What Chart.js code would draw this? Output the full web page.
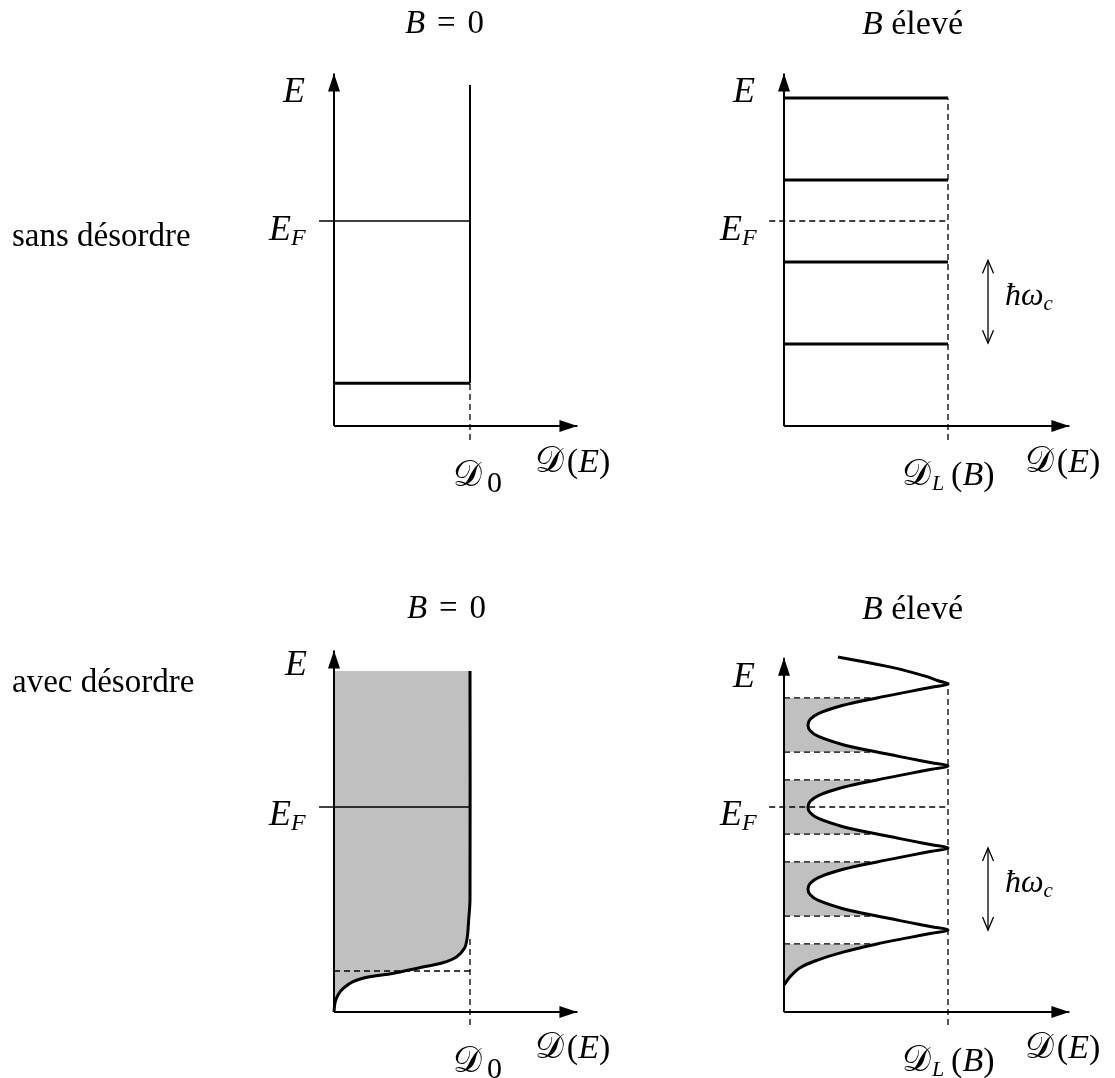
<!DOCTYPE html>
<html><head><meta charset="utf-8">
<script src="https://cdn.jsdelivr.net/npm/chart.js@4.4.1/dist/chart.umd.min.js"></script>
<style>
html,body{margin:0;padding:0;background:#fff;overflow:hidden;}
#wrap{position:relative;width:1115px;height:1078px;}
#c{position:absolute;left:0;top:0;}
.t{position:absolute;font-family:"Liberation Serif","Times New Roman",serif;color:#000;white-space:nowrap;line-height:1;}
.t i{font-style:italic;}
.cal{font-family:"DejaVu Serif","DejaVu Sans","Noto Sans",serif;font-style:normal;font-size:36px;}
.sub{position:relative;}
.eq{margin:0 0.36em;}
</style></head><body>
<div id="wrap"><canvas id="c" width="1115" height="1078"></canvas></div>
<script>
// ---------------- data (energies in units of ħω_c, densities in units of D0 / D_L) ----------------
// top-left : sans désordre, B = 0
const tlAxisTopE = 4.30, tlAxisEndD = 1.79;
const tlBandEdgeE = 0.52, tlBandTopE = 4.16, tlFermiE = 2.5, tlD0 = 1;
// top-right : sans désordre, B élevé
const trAxisTopE = 4.30, trAxisEndD = 1.74;
const trLevelsE = [1.0, 2.0, 3.0, 4.0];
const trFermiE = 2.5, trDL = 1;
const trGapE = [1.01, 2.02];
// bottom-left : avec désordre, B = 0
const blAxisTopE = 4.41, blAxisEndD = 1.79;
const blCurveE = [0.00, 0.11, 0.21, 0.29, 0.37, 0.43, 0.47, 0.54, 0.60, 0.67, 0.78, 0.91, 1.12, 1.37, 4.16];
const blCurveD = [0.00, 0.007, 0.03, 0.07, 0.14, 0.26, 0.43, 0.63, 0.80, 0.90, 0.96, 0.98, 0.99, 1.00, 1.00];
const blEdgeE = 0.50, blFermiE = 2.5, blD0 = 1;
// bottom-right : avec désordre, B élevé
const brAxisTopE = 4.32, brAxisEndD = 1.74;
const brCurveE = [0.33, 0.43, 0.54, 0.63, 0.73, 0.83, 0.91, 0.96,
                  1.00, 1.04, 1.09, 1.17, 1.26, 1.36, 1.43, 1.50, 1.57, 1.64, 1.74, 1.83, 1.91, 1.96,
                  2.00, 2.04, 2.09, 2.17, 2.26, 2.36, 2.43, 2.50, 2.57, 2.64, 2.74, 2.83, 2.91, 2.96,
                  3.00, 3.04, 3.09, 3.17, 3.26, 3.36, 3.43, 3.50, 3.57, 3.64, 3.74, 3.83, 3.91, 3.96,
                  4.00, 4.04, 4.09, 4.20, 4.33];
const brCurveD = [0.00, 0.037, 0.098, 0.20, 0.36, 0.567, 0.77, 0.90,
                  1.00, 0.90, 0.77, 0.567, 0.36, 0.21, 0.16, 0.146, 0.16, 0.21, 0.36, 0.567, 0.77, 0.90,
                  1.00, 0.90, 0.77, 0.567, 0.36, 0.21, 0.16, 0.146, 0.16, 0.21, 0.36, 0.567, 0.77, 0.90,
                  1.00, 0.90, 0.77, 0.567, 0.36, 0.21, 0.16, 0.146, 0.16, 0.21, 0.36, 0.567, 0.77, 0.90,
                  1.00, 0.94, 0.872, 0.665, 0.329];
const brFilledBands = [[0.33, 0.83], [1.17, 1.83], [2.17, 2.83], [3.17, 3.83]];
const brFermiE = 2.5, brDL = 1;
const brGapE = [1.0, 2.0];

// ---------------- layout (pixel origin and pixels per unit for each panel) ----------------
const W = 1115, H = 1078;
const panels = {
  TL: {ox: 334, oy: 426, sx: 136, sy: 82},
  TR: {ox: 784, oy: 426, sx: 164, sy: 82},
  BL: {ox: 334, oy: 1012, sx: 136, sy: 82},
  BR: {ox: 784, oy: 1012, sx: 164, sy: 82}
};
const scales = {};
for (const [k, p] of Object.entries(panels)) {
  scales['x' + k] = {type: 'linear', axis: 'x', display: false, bounds: 'data', grace: 0,
    min: -p.ox / p.sx, max: (W - p.ox) / p.sx};
  scales['y' + k] = {type: 'linear', axis: 'y', display: false, bounds: 'data', grace: 0,
    min: -(H - p.oy) / p.sy, max: p.oy / p.sy};
}
const DASH = [6, 4];
const GRAY = '#c0c0c0';
const pts = (Ds, Es) => Ds.map((d, i) => ({x: d, y: Es[i]}));
function seg(panel, data, opts) {
  return Object.assign({
    xAxisID: 'x' + panel, yAxisID: 'y' + panel, data: data,
    showLine: true, pointRadius: 0, pointHoverRadius: 0, borderColor: '#000',
    borderWidth: 2, fill: false, tension: 0, order: 3
  }, opts || {});
}
const axes = (panel, topE, endD) => [
  seg(panel, [{x: 0, y: 0}, {x: 0, y: topE}], {arrow: 'filled', order: 0}),
  seg(panel, [{x: 0, y: 0}, {x: endD, y: 0}], {arrow: 'filled', order: 0})
];
const dashed = (panel, data) => seg(panel, data, {borderDash: DASH, borderWidth: 1.3, order: 5});
function curveDAt(E) { const i = brCurveE.indexOf(E); return brCurveD[i]; }

const datasets = [];
// ---- TL
datasets.push(...axes('TL', tlAxisTopE, tlAxisEndD));
datasets.push(seg('TL', [{x: tlD0, y: tlBandEdgeE}, {x: tlD0, y: tlBandTopE}], {borderWidth: 2}));
datasets.push(seg('TL', [{x: 0, y: tlBandEdgeE}, {x: tlD0, y: tlBandEdgeE}], {borderWidth: 3}));
datasets.push(seg('TL', [{x: -0.11, y: tlFermiE}, {x: tlD0, y: tlFermiE}], {borderWidth: 1.3}));
datasets.push(dashed('TL', [{x: tlD0, y: -0.17}, {x: tlD0, y: tlBandEdgeE}]));
// ---- TR
datasets.push(...axes('TR', trAxisTopE, trAxisEndD));
trLevelsE.forEach(L => datasets.push(seg('TR', [{x: 0, y: L}, {x: trDL, y: L}], {borderWidth: 3})));
datasets.push(dashed('TR', [{x: trDL, y: -0.17}, {x: trDL, y: trLevelsE[trLevelsE.length - 1]}]));
datasets.push(dashed('TR', [{x: -0.09, y: trFermiE}, {x: trDL, y: trFermiE}]));
datasets.push(seg('TR', [{x: 1.244, y: trGapE[0]}, {x: 1.244, y: trGapE[1]}], {borderWidth: 1.3, arrow: 'open'}));
// ---- BL
const blPts = pts(blCurveD, blCurveE);
datasets.push(seg('BL', [...blPts, {x: 0, y: blCurveE[blCurveE.length - 1]}],
  {fill: 'shape', backgroundColor: GRAY, borderColor: 'rgba(0,0,0,0)', borderWidth: 0, order: 9}));
datasets.push(seg('BL', blPts, {borderWidth: 3, tension: 0.3, order: 2}));
datasets.push(...axes('BL', blAxisTopE, blAxisEndD));
datasets.push(seg('BL', [{x: -0.11, y: blFermiE}, {x: blD0, y: blFermiE}], {borderWidth: 1.3}));
datasets.push(dashed('BL', [{x: 0, y: blEdgeE}, {x: blD0, y: blEdgeE}]));
datasets.push(dashed('BL', [{x: blD0, y: -0.16}, {x: blD0, y: 0.9}]));
// ---- BR
const brPts = pts(brCurveD, brCurveE);
brFilledBands.forEach(([a, b]) => {
  const inside = brPts.filter(p => p.y >= a - 1e-9 && p.y <= b + 1e-9);
  datasets.push(seg('BR', [{x: 0, y: a}, ...inside, {x: 0, y: b}],
    {fill: 'shape', backgroundColor: GRAY, borderColor: 'rgba(0,0,0,0)', borderWidth: 0, order: 9}));
  [a, b].forEach(E => { if (E > brCurveE[0]) datasets.push(dashed('BR', [{x: 0, y: E}, {x: curveDAt(E), y: E}])); });
});
datasets.push(seg('BR', brPts, {borderWidth: 3, tension: 0.35, order: 2}));
datasets.push(...axes('BR', brAxisTopE, brAxisEndD));
datasets.push(dashed('BR', [{x: -0.09, y: brFermiE}, {x: brDL, y: brFermiE}]));
datasets.push(dashed('BR', [{x: brDL, y: -0.16}, {x: brDL, y: 4.0}]));
datasets.push(seg('BR', [{x: 1.244, y: brGapE[0]}, {x: 1.244, y: brGapE[1]}], {borderWidth: 1.3, arrow: 'open'}));

// arrowheads drawn from the datasets' own end points through the scales
const arrowPlugin = {
  id: 'arrowHeads',
  afterDatasetsDraw(chart) {
    const ctx = chart.ctx;
    chart.data.datasets.forEach(ds => {
      if (!ds.arrow) return;
      const xs = chart.scales[ds.xAxisID], ys = chart.scales[ds.yAxisID];
      const P = ds.data.map(p => [xs.getPixelForValue(p.x), ys.getPixelForValue(p.y)]);
      const head = (tip, from, len, hw, filled) => {
        const dx = tip[0] - from[0], dy = tip[1] - from[1], n = Math.hypot(dx, dy);
        const ux = dx / n, uy = dy / n, bx = tip[0] - ux * len, by = tip[1] - uy * len;
        ctx.beginPath();
        ctx.moveTo(bx - uy * hw, by + ux * hw);
        ctx.lineTo(tip[0], tip[1]);
        ctx.lineTo(bx + uy * hw, by - ux * hw);
        if (filled) { ctx.closePath(); ctx.fill(); } else { ctx.stroke(); }
      };
      ctx.save();
      ctx.fillStyle = '#000'; ctx.strokeStyle = '#000'; ctx.lineWidth = 1.3;
      if (ds.arrow === 'filled') {
        head(P[P.length - 1], P[0], 18, 6, true);
      } else {
        head(P[P.length - 1], P[0], 13, 5.5, false);
        head(P[0], P[P.length - 1], 13, 5.5, false);
      }
      ctx.restore();
    });
  }
};

new Chart(document.getElementById('c'), {
  type: 'scatter',
  data: {datasets},
  options: {
    responsive: false, animation: false, events: [],
    layout: {padding: 0},
    plugins: {legend: {display: false}, tooltip: {enabled: false}, title: {display: false}},
    scales
  },
  plugins: [arrowPlugin]
});

// ---------------- text ----------------
const wrap = document.getElementById('wrap');
function label(html, left, baseline, size) {
  const d = document.createElement('div');
  d.className = 't';
  d.style.left = left + 'px';
  d.style.top = (baseline - 0.8375 * size) + 'px';
  d.style.fontSize = size + 'px';
  d.innerHTML = html;
  wrap.appendChild(d);
}
const CAL = '<span class="cal">𝒟</span>';
const sub = (t, size, dy, ml) => `<span class="sub" style="font-size:${size}px;top:${dy}px;margin-left:${ml || 0}px">${t}</span>`;
label('<i>B</i><span class="eq">=</span>0', 405, 34, 33);
label('<i>B</i> élevé', 862, 34, 34);
label('<i>B</i><span class="eq">=</span>0', 407, 619, 33);
label('<i>B</i> élevé', 862, 619, 34);
label('sans désordre', 12, 247, 33);
label('avec désordre', 12, 693, 33);
[[283, 102], [733, 102], [285, 675], [733, 687]].forEach(([x, y]) => label('<i>E</i>', x, y, 36));
[[269, 240], [720, 240], [269, 825], [720, 825]].forEach(([x, y]) => label('<i>E</i>' + sub('<i>F</i>', 24, 5), x, y, 36));
[[453, 483], [453, 1069]].forEach(([x, y]) => label(CAL + sub('0', 30, 6, 5), x, y, 32));
[[902, 483], [902, 1069]].forEach(([x, y]) => label(CAL + sub('<i>L</i>', 22, 5, 1) + '&#8201;(<i>B</i>)', x, y, 34));
[[535, 470], [1025, 470], [535, 1056], [1025, 1056]].forEach(([x, y]) => label(CAL + '&#8202;(<i>E</i>)', x, y, 34));
[[1005, 305], [1005, 892]].forEach(([x, y]) => label('<i>ħω</i>' + sub('<i>c</i>', 21, 5), x, y, 32));
</script>
</body></html>
